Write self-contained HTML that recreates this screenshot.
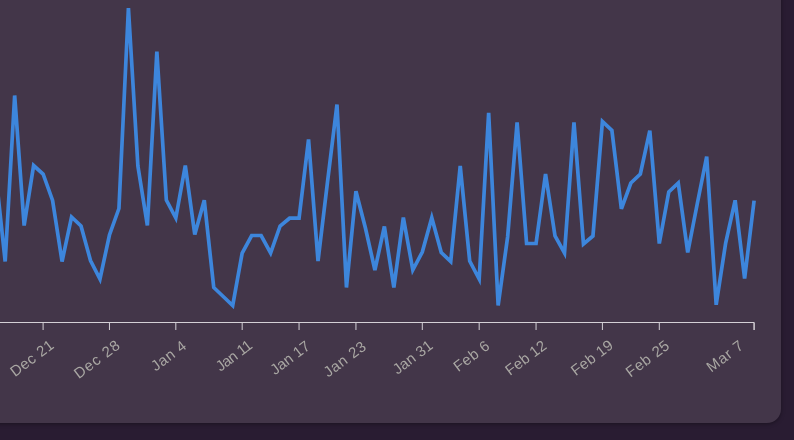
<!DOCTYPE html>
<html><head><meta charset="utf-8"><title>Chart</title><style>
html,body{margin:0;padding:0;width:794px;height:440px;overflow:hidden;background:#291c32;}
.card{position:absolute;left:-40px;top:-40px;width:821px;height:463px;background:#433649;border-radius:14px;box-shadow:0 1px 4px rgba(0,0,0,0.35);}
svg{position:absolute;left:0;top:0;will-change:transform;}
text{font-family:"Liberation Sans",Arial,sans-serif;font-size:15px;fill:#a9a7a3;text-anchor:end;}
line{stroke:#d4d0d6;stroke-width:1;}
</style></head><body>
<div class="card"></div>
<svg width="794" height="440" viewBox="0 0 794 440">
<path d="M0,322.5H754.10V330.0" fill="none" stroke="#d4d0d6"/>
<line x1="43.10" x2="43.10" y1="322.5" y2="330.0"/><text transform="translate(54.86,347.26) rotate(-37)" textLength="49.84" lengthAdjust="spacing">Dec 21</text>
<line x1="109.46" x2="109.46" y1="322.5" y2="330.0"/><text transform="translate(120.94,347.46) rotate(-37)" textLength="52.94" lengthAdjust="spacing">Dec 28</text>
<line x1="175.82" x2="175.82" y1="322.5" y2="330.0"/><text transform="translate(187.38,347.98) rotate(-37)" textLength="39.71" lengthAdjust="spacing">Jan 4</text>
<line x1="242.18" x2="242.18" y1="322.5" y2="330.0"/><text transform="translate(253.46,347.22) rotate(-37)" textLength="41.23" lengthAdjust="spacing">Jan 11</text>
<line x1="299.06" x2="299.06" y1="322.5" y2="330.0"/><text transform="translate(311.06,348.22) rotate(-37)" textLength="45.15" lengthAdjust="spacing">Jan 17</text>
<line x1="355.94" x2="355.94" y1="322.5" y2="330.0"/><text transform="translate(367.06,348.62) rotate(-37)" textLength="48.55" lengthAdjust="spacing">Jan 23</text>
<line x1="422.30" x2="422.30" y1="322.5" y2="330.0"/><text transform="translate(433.94,347.58) rotate(-37)" textLength="45.65" lengthAdjust="spacing">Jan 31</text>
<line x1="479.18" x2="479.18" y1="322.5" y2="330.0"/><text transform="translate(490.70,347.86) rotate(-37)" textLength="40.66" lengthAdjust="spacing">Feb 6</text>
<line x1="536.06" x2="536.06" y1="322.5" y2="330.0"/><text transform="translate(547.66,347.66) rotate(-37)" textLength="47.00" lengthAdjust="spacing">Feb 12</text>
<line x1="602.42" x2="602.42" y1="322.5" y2="330.0"/><text transform="translate(614.22,347.18) rotate(-37)" textLength="48.31" lengthAdjust="spacing">Feb 19</text>
<line x1="659.30" x2="659.30" y1="322.5" y2="330.0"/><text transform="translate(670.46,347.70) rotate(-37)" textLength="49.91" lengthAdjust="spacing">Feb 25</text>
<line x1="754.10" x2="754.10" y1="322.5" y2="330.0"/><text transform="translate(744.52,347.74) rotate(-37)" textLength="41.55" lengthAdjust="spacing">Mar 7</text>
<path d="M-4.30,173.00L5.18,261.50L14.66,95.50L24.14,225.50L33.62,165.50L43.10,174.00L52.58,200.50L62.06,261.50L71.54,217.00L81.02,226.00L90.50,260.50L99.98,279.00L109.46,235.00L118.94,208.50L128.42,8.00L137.90,166.00L147.38,225.50L156.86,51.50L166.34,200.00L175.82,218.00L185.30,165.50L194.78,234.50L204.26,200.20L213.74,287.50L223.22,296.50L232.70,305.50L242.18,253.00L251.66,235.50L261.14,235.50L270.62,253.00L280.10,226.00L289.58,218.20L299.06,218.20L308.54,139.50L318.02,261.00L327.50,182.00L336.98,104.50L346.46,287.50L355.94,191.30L365.42,228.00L374.90,270.00L384.38,226.50L393.86,287.50L403.34,217.50L412.82,270.00L422.30,252.00L431.78,217.80L441.26,252.50L450.74,261.50L460.22,166.00L469.70,261.00L479.18,279.00L488.66,112.80L498.14,305.40L507.62,237.00L517.10,122.50L526.58,243.50L536.06,243.50L545.54,174.00L555.02,236.00L564.50,253.00L573.98,122.50L583.46,244.00L592.94,236.00L602.42,121.50L611.90,130.50L621.38,208.80L630.86,183.00L640.34,174.00L649.82,130.70L659.30,243.50L668.78,192.00L678.26,183.00L687.74,252.50L697.22,204.00L706.70,156.50L716.18,304.80L725.66,243.00L735.14,200.30L744.62,278.50L754.10,200.60" fill="none" stroke="#3d86dc" stroke-width="3.7"/>
</svg>
</body></html>
